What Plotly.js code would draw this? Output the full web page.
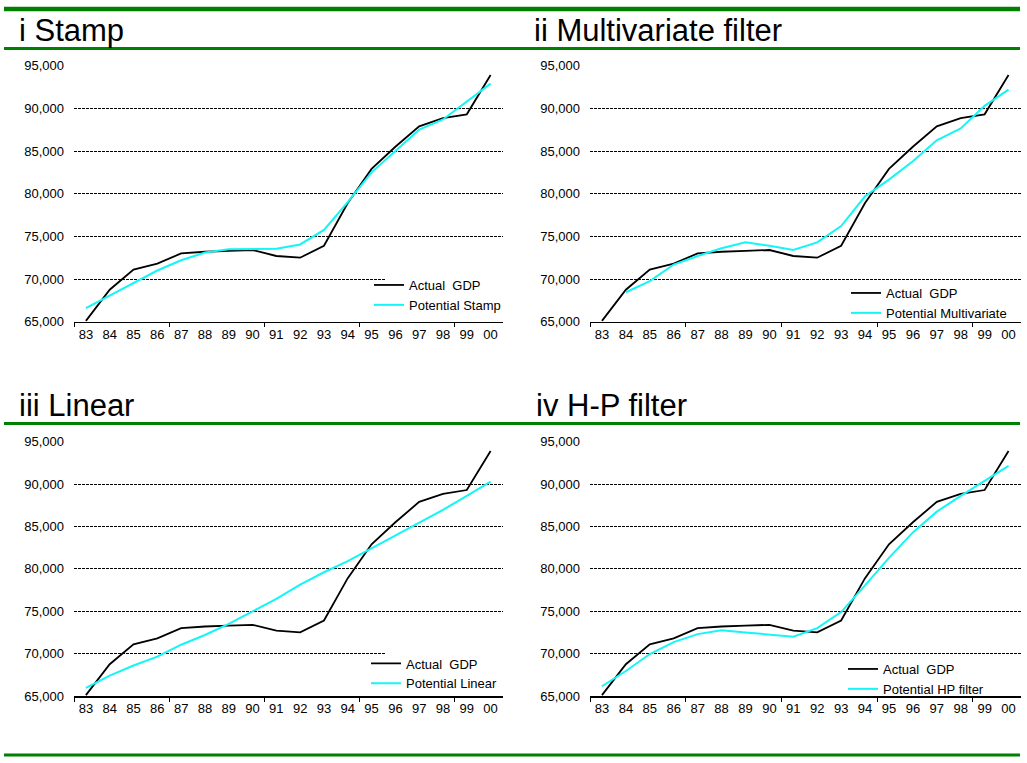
<!DOCTYPE html>
<html>
<head>
<meta charset="utf-8">
<script src="https://cdn.plot.ly/plotly-3.0.1.min.js"></script>
<style>html,body{margin:0;padding:0;background:#fff;}#chart{width:1027px;height:763px;}</style>
</head>
<body>
<div id="chart"></div>
<script>
// ---- data ----
const years = ['83','84','85','86','87','88','89','90','91','92','93','94','95','96','97','98','99','00'];
const actualGDP = [65100, 68750, 71100, 71800, 73000, 73200, 73300, 73400, 72700, 72500, 73900, 78900, 82900, 85500, 87900, 88850, 89300, 93900];
const potentialStamp = [66600, 68100, 69600, 71000, 72200, 73100, 73500, 73550, 73550, 74050, 75750, 79000, 82500, 85000, 87500, 88700, 90750, 92900];
const potentialMultivariate = [null, 68450, 69750, 71700, 72700, 73600, 74300, 73900, 73400, 74300, 76200, 79700, 81650, 83800, 86250, 87650, 90300, 92200];
const potentialLinear = [65950, 67400, 68600, 69650, 71050, 72200, 73500, 75000, 76450, 78150, 79600, 80900, 82400, 83950, 85450, 86950, 88600, 90300];
const potentialHP = [66150, 67950, 69950, 71350, 72300, 72750, 72500, 72250, 72000, 73000, 74900, 78050, 81300, 84300, 86750, 88600, 90350, 92150];
const panelTitles = ['i Stamp', 'ii Multivariate filter', 'iii Linear', 'iv H-P filter'];
const potentialNames = ['Potential Stamp', 'Potential Multivariate', 'Potential Linear', 'Potential HP filter'];
const yTicks = [65000, 70000, 75000, 80000, 85000, 90000, 95000];

// ---- layout geometry ----
const W = 1027, H = 763;
const px = v => v / W;
const py = v => 1 - v / H;
const FONT = 'Liberation Sans, Arial, Helvetica, sans-serif';
const idx = years.map((_, i) => i);
const potentials = [potentialStamp, potentialMultivariate, potentialLinear, potentialHP];

const panels = [
  {x0: 74, x1: 502.5, top: 65.7, bot: 321.7, titleX: 17, titleY: 31, legX: 369, legY: 270, cutGrid: true},
  {x0: 590, x1: 1020.5, top: 65.7, bot: 321.7, titleX: 532, titleY: 31, legX: 846, legY: 278, cutGrid: false},
  {x0: 74, x1: 502.5, top: 441.7, bot: 696, titleX: 17, titleY: 405, legX: 366, legY: 648.5, cutGrid: true},
  {x0: 590, x1: 1020.5, top: 441.7, bot: 696, titleX: 534, titleY: 405, legX: 843, legY: 654, cutGrid: false}
];

const traces = [];
const layout = {
  width: W, height: H, autosize: false,
  margin: {l: 0, r: 0, t: 0, b: 0, pad: 0},
  paper_bgcolor: '#fff', plot_bgcolor: 'rgba(0,0,0,0)',
  font: {family: FONT, color: '#000', size: 13},
  annotations: [], shapes: []
};

panels.forEach((p, i) => {
  const n = i + 1;
  const sfx = n === 1 ? '' : String(n);
  const xa = 'x' + sfx, ya = 'y' + sfx;
  const lg = 'legend' + sfx;
  traces.push({
    x: idx, y: actualGDP, type: 'scatter', mode: 'lines', name: 'Actual\u00a0 GDP',
    line: {color: '#000000', width: 1.8}, xaxis: xa, yaxis: ya, legend: lg, hoverinfo: 'skip'
  });
  traces.push({
    x: idx, y: potentials[i], type: 'scatter', mode: 'lines', name: potentialNames[i],
    line: {color: '#14F5F5', width: 2}, xaxis: xa, yaxis: ya, legend: lg, hoverinfo: 'skip',
    connectgaps: false
  });
  layout['xaxis' + sfx] = {
    domain: [px(p.x0), px(p.x1)], anchor: ya, range: [-0.5, 17.5],
    tickmode: 'array', tickvals: idx, ticktext: years, ticks: '',
    showline: true, linecolor: '#000', linewidth: 1.5, showgrid: false, zeroline: false,
    tickfont: {size: 13, color: '#000', family: FONT}, fixedrange: true,
    minor: {tickmode: 'array', tickvals: [-0.5, 3.5, 7.5, 11.5, 15.5], ticks: 'outside', ticklen: 4, tickwidth: 1, tickcolor: '#000', showgrid: false}
  };
  layout['yaxis' + sfx] = {
    domain: [py(p.bot), py(p.top)], anchor: xa, range: [65000, 95000],
    tickmode: 'array', tickvals: yTicks, tickformat: ',d', ticks: '',
    showgrid: true, gridcolor: '#000', gridwidth: 1, griddash: '3px,1px',
    zeroline: false, showline: false, ticklabelstandoff: 9,
    tickfont: {size: 13, color: '#000', family: FONT}, fixedrange: true
  };
  layout[lg] = {
    x: px(p.legX), y: py(p.legY), xanchor: 'left', yanchor: 'top',
    bgcolor: 'rgba(0,0,0,0)', borderwidth: 0, font: {size: 13, color: '#000', family: FONT},
    itemwidth: 30, tracegroupgap: 0
  };
  if (p.cutGrid) {
    // legend area masks the right part of the 70,000 gridline, as in the reference
    layout.shapes.push({
      type: 'rect', layer: 'above', xref: xa + ' domain', yref: ya,
      x0: (385 - p.x0) / (p.x1 - p.x0), x1: 1.01, y0: 69700, y1: 70300,
      fillcolor: '#fff', line: {width: 0}
    });
  }
  layout.annotations.push({
    text: panelTitles[i], xref: 'paper', yref: 'paper', x: px(p.titleX), y: py(p.titleY),
    xanchor: 'left', yanchor: 'middle', showarrow: false,
    font: {size: 31, color: '#000', family: FONT}
  });
});

// green rules
const rule = (y, w) => ({type: 'line', xref: 'paper', yref: 'paper', x0: px(4), x1: px(1020), y0: py(y), y1: py(y), line: {color: '#008000', width: w}});
layout.shapes.push(rule(9, 4.5), rule(48.5, 3), rule(423.5, 3), rule(755, 3));

Plotly.newPlot('chart', traces, layout, {staticPlot: true, displayModeBar: false});
</script>
</body>
</html>
